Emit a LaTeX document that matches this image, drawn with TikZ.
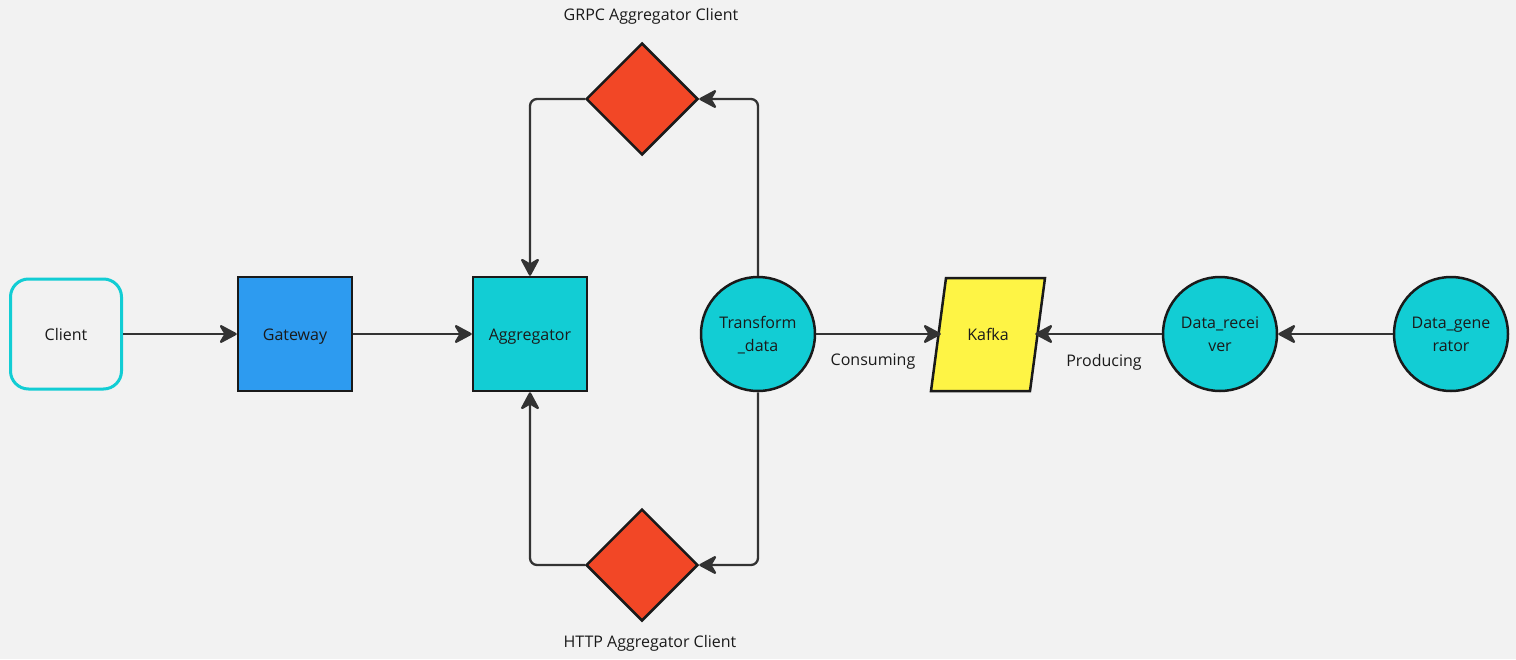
\documentclass[tikz,border=0pt]{standalone}
\usepackage{fontspec}
\setmainfont{Open Sans}
\usetikzlibrary{arrows.meta,shapes.geometric}
\definecolor{bg}{HTML}{F2F2F2}
\definecolor{ink}{HTML}{1A1A1A}
\definecolor{wire}{HTML}{333333}
\definecolor{cyanfill}{HTML}{12CDD4}
\definecolor{bluefill}{HTML}{2D9BF0}
\definecolor{redfill}{HTML}{F24726}
\definecolor{yellowfill}{HTML}{FEF445}
\tikzset{
  txt/.style={font=\fontsize{16}{23}\selectfont, text=ink},
  one/.style={text height=12pt, text depth=0pt},
  clientbox/.style={txt, one, rectangle, rounded corners=18, draw=cyanfill, line width=3, minimum width=111, minimum height=110, inner sep=0},
  sqbox/.style={txt, one, rectangle, draw=ink, line width=2.5, minimum width=114, minimum height=114, inner sep=0},
  roundnode/.style={txt, circle, draw=ink, line width=2.5, fill=cyanfill, minimum size=114, inner sep=0, align=center, text depth=0pt},
  dia/.style={diamond, draw=ink, line width=2.5, fill=redfill, minimum width=112, minimum height=112, inner sep=0},
  tipshape/.tip={Stealth[length=16pt, width=17pt, inset=5pt, line join=round, scale=1.25]},
  conn/.style={draw=wire, line width=2.3, rounded corners=7, -tipshape},
  lbl/.style={txt}
}
\begin{document}
\begin{tikzpicture}[x=1pt,y=-1pt]
\fill[bg] (0,0) rectangle (1516,659);
\useasboundingbox (0,0) rectangle (1516,659);

\node[clientbox] (client) at (66,334) {Client};
\node[sqbox, fill=bluefill] (gateway) at (295,334) {Gateway};
\node[sqbox, fill=cyanfill] (aggregator) at (530,334) {Aggregator};
\node[roundnode] (transform) at (758,334) {Transform\\\_data};
\draw[ink, line width=2.5, fill=yellowfill] (931,391) -- (946,278) -- (1045,278) -- (1030,391) -- cycle;
\node[txt, one, rectangle, minimum width=94, minimum height=113, inner sep=0] (kafka) at (988,334) {Kafka};
\node[roundnode] (receiver) at (1220,334) {Data\_recei\\ver};
\node[roundnode] (generator) at (1451,334) {Data\_gene\\rator};
\node[dia] (grpc) at (642,99) {};
\node[dia] (http) at (642,565) {};

\node[lbl] (grpclabel) at (651,16) {GRPC Aggregator Client};
\node[lbl] (httplabel) at (650,643) {HTTP Aggregator Client};
\node[lbl] (consuming) at (873,362) {Consuming};
\node[lbl] (producing) at (1104,362) {Producing};

\draw[conn] (client.east) -- (gateway.west);
\draw[conn] (gateway.east) -- (aggregator.west);
\draw[conn] (transform.east) -- (kafka.west);
\draw[conn] (receiver.west) -- (kafka.east);
\draw[conn] (generator.west) -- (receiver.east);
\draw[conn] (transform.north) |- (grpc.east);
\draw[conn] (grpc.west) -| (aggregator.north);
\draw[conn] (transform.south) |- (http.east);
\draw[conn] (http.west) -| (aggregator.south);
\end{tikzpicture}
\end{document}
